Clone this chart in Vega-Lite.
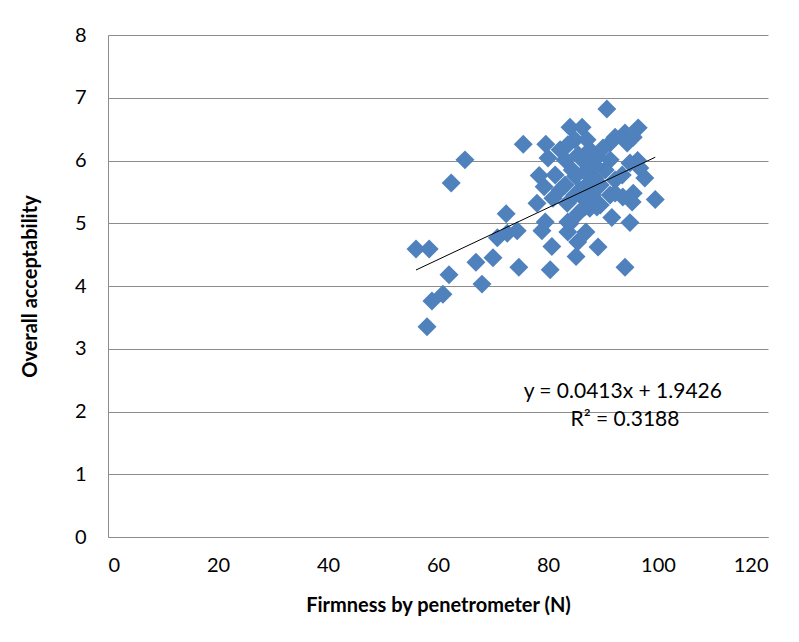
{
  "$schema": "https://vega.github.io/schema/vega-lite/v6.json",
  "autosize": "none",
  "width": 660,
  "height": 502,
  "padding": {"left": 108, "top": 35, "right": 31, "bottom": 105},
  "background": "white",
  "config": {
    "view": {"stroke": null},
    "font": "Lato",
    "axis": {"labelFont": "Lato", "titleFont": "Lato", "labelColor": "#000000", "titleColor": "#000000"}
  },
  "layer": [
    {
      "data": {"values": [
        {"firmness": 58.0, "acceptability": 3.35},
        {"firmness": 58.9, "acceptability": 3.76},
        {"firmness": 60.9, "acceptability": 3.87},
        {"firmness": 62.0, "acceptability": 4.18},
        {"firmness": 56.0, "acceptability": 4.59},
        {"firmness": 58.4, "acceptability": 4.59},
        {"firmness": 64.9, "acceptability": 6.01},
        {"firmness": 62.4, "acceptability": 5.64},
        {"firmness": 66.9, "acceptability": 4.38},
        {"firmness": 68.0, "acceptability": 4.03},
        {"firmness": 70.0, "acceptability": 4.45},
        {"firmness": 72.4, "acceptability": 5.15},
        {"firmness": 70.8, "acceptability": 4.77},
        {"firmness": 72.6, "acceptability": 4.84},
        {"firmness": 74.4, "acceptability": 4.88},
        {"firmness": 74.7, "acceptability": 4.30},
        {"firmness": 75.5, "acceptability": 6.26},
        {"firmness": 78.0, "acceptability": 5.32},
        {"firmness": 79.3, "acceptability": 5.58},
        {"firmness": 78.4, "acceptability": 5.76},
        {"firmness": 78.9, "acceptability": 4.88},
        {"firmness": 80.7, "acceptability": 4.63},
        {"firmness": 80.4, "acceptability": 4.26},
        {"firmness": 84.0, "acceptability": 5.00},
        {"firmness": 83.6, "acceptability": 4.86},
        {"firmness": 86.9, "acceptability": 4.86},
        {"firmness": 85.1, "acceptability": 4.47},
        {"firmness": 85.4, "acceptability": 4.70},
        {"firmness": 89.1, "acceptability": 4.62},
        {"firmness": 91.6, "acceptability": 5.09},
        {"firmness": 94.9, "acceptability": 5.01},
        {"firmness": 94.0, "acceptability": 4.30},
        {"firmness": 99.5, "acceptability": 5.38},
        {"firmness": 97.6, "acceptability": 5.72},
        {"firmness": 96.3, "acceptability": 6.00},
        {"firmness": 79.6, "acceptability": 6.26},
        {"firmness": 79.5, "acceptability": 5.02},
        {"firmness": 83.6, "acceptability": 5.02},
        {"firmness": 90.7, "acceptability": 6.82},
        {"firmness": 84.0, "acceptability": 6.53},
        {"firmness": 86.2, "acceptability": 6.53},
        {"firmness": 96.4, "acceptability": 6.52},
        {"firmness": 94.0, "acceptability": 6.44},
        {"firmness": 92.2, "acceptability": 6.37},
        {"firmness": 84.9, "acceptability": 6.33},
        {"firmness": 87.1, "acceptability": 6.33},
        {"firmness": 80.0, "acceptability": 6.04},
        {"firmness": 82.2, "acceptability": 6.17},
        {"firmness": 83.1, "acceptability": 6.01},
        {"firmness": 85.5, "acceptability": 6.09},
        {"firmness": 87.6, "acceptability": 6.17},
        {"firmness": 88.9, "acceptability": 6.06},
        {"firmness": 91.3, "acceptability": 6.28},
        {"firmness": 94.4, "acceptability": 6.28},
        {"firmness": 95.5, "acceptability": 6.37},
        {"firmness": 91.3, "acceptability": 6.01},
        {"firmness": 94.9, "acceptability": 5.96},
        {"firmness": 96.7, "acceptability": 5.88},
        {"firmness": 82.2, "acceptability": 5.53},
        {"firmness": 83.5, "acceptability": 5.32},
        {"firmness": 85.5, "acceptability": 5.16},
        {"firmness": 84.4, "acceptability": 5.85},
        {"firmness": 86.7, "acceptability": 5.82},
        {"firmness": 88.5, "acceptability": 5.72},
        {"firmness": 90.4, "acceptability": 5.85},
        {"firmness": 92.2, "acceptability": 5.69},
        {"firmness": 93.5, "acceptability": 5.77},
        {"firmness": 81.3, "acceptability": 5.77},
        {"firmness": 83.1, "acceptability": 5.61},
        {"firmness": 85.8, "acceptability": 5.53},
        {"firmness": 88.0, "acceptability": 5.45},
        {"firmness": 89.5, "acceptability": 5.61},
        {"firmness": 91.3, "acceptability": 5.45},
        {"firmness": 93.6, "acceptability": 5.42},
        {"firmness": 95.5, "acceptability": 5.48},
        {"firmness": 92.2, "acceptability": 5.48},
        {"firmness": 87.6, "acceptability": 5.24},
        {"firmness": 89.5, "acceptability": 5.29},
        {"firmness": 86.7, "acceptability": 5.37},
        {"firmness": 84.9, "acceptability": 5.45},
        {"firmness": 80.9, "acceptability": 5.40},
        {"firmness": 88.5, "acceptability": 5.93},
        {"firmness": 86.2, "acceptability": 6.01},
        {"firmness": 83.6, "acceptability": 6.25},
        {"firmness": 88.9, "acceptability": 5.26},
        {"firmness": 86.7, "acceptability": 5.26},
        {"firmness": 95.3, "acceptability": 5.34},
        {"firmness": 87.5, "acceptability": 5.65},
        {"firmness": 90.0, "acceptability": 6.20},
        {"firmness": 85.0, "acceptability": 5.75}
      ]},
      "mark": {"type": "point", "shape": "diamond", "filled": true, "size": 360, "color": "#4F81BD", "opacity": 1},
      "encoding": {
        "x": {
          "field": "firmness", "type": "quantitative",
          "scale": {"domain": [0, 120], "nice": false, "zero": false},
          "axis": {
            "title": "Firmness by penetrometer (N)",
            "values": [0, 20, 40, 60, 80, 100, 120],
            "format": "d",
            "grid": false, "ticks": false,
            "domainColor": "#8c8c8c", "domainWidth": 1,
            "labelFontSize": 20, "labelPadding": 18,
            "titleFontSize": 20, "titleFontWeight": "bold",
            "titleX": 330, "titleY": 68, "titleBaseline": "middle", "titleAlign": "center"
          }
        },
        "y": {
          "field": "acceptability", "type": "quantitative",
          "scale": {"domain": [0, 8], "nice": false, "zero": false},
          "axis": {
            "title": "Overall acceptability",
            "values": [0, 1, 2, 3, 4, 5, 6, 7, 8],
            "format": "d",
            "grid": true, "gridColor": "#8c8c8c", "gridWidth": 1,
            "ticks": false,
            "domainColor": "#8c8c8c", "domainWidth": 1,
            "labelFontSize": 20, "labelPadding": 22,
            "titleFontSize": 20, "titleFontWeight": "bold",
            "titleX": -78, "titleY": 251, "titleBaseline": "middle", "titleAlign": "center", "titleAngle": -90
          }
        }
      }
    },
    {
      "data": {"values": [
        {"firmness": 56.0, "fit": 4.255},
        {"firmness": 99.5, "fit": 6.052}
      ]},
      "mark": {"type": "line", "color": "#000000", "strokeWidth": 1},
      "encoding": {
        "x": {"field": "firmness", "type": "quantitative"},
        "y": {"field": "fit", "type": "quantitative"}
      }
    },
    {
      "data": {"values": [
        {"firmness": 93.6, "acceptability": 2.31, "label": "y = 0.0413x + 1.9426"},
        {"firmness": 94.0, "acceptability": 1.86, "label": "R² = 0.3188"}
      ]},
      "mark": {"type": "text", "fontSize": 21, "color": "#000000", "align": "center", "baseline": "middle"},
      "encoding": {
        "x": {"field": "firmness", "type": "quantitative"},
        "y": {"field": "acceptability", "type": "quantitative"},
        "text": {"field": "label"}
      }
    }
  ]
}
